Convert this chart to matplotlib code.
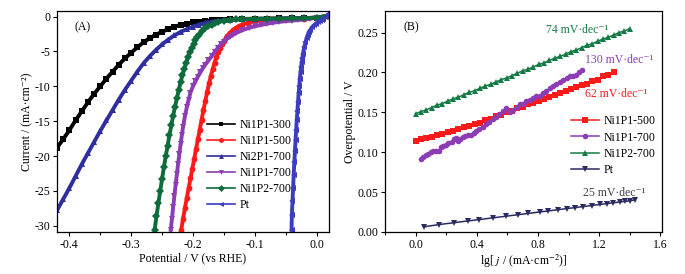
import numpy as np
import matplotlib
matplotlib.use("Agg")
import matplotlib.pyplot as plt
from matplotlib.ticker import MultipleLocator

plt.rcParams['font.family'] = ['Liberation Serif', 'DejaVu Serif']
plt.rcParams['mathtext.fontset'] = 'stix'
plt.rcParams['axes.unicode_minus'] = False

# ---- Panel A: polarization curves (potential V vs RHE, current mA/cm2) ----
v_300 = [-0.42, -0.41, -0.40, -0.39, -0.38, -0.37, -0.36, -0.35, -0.34, -0.33,
         -0.32, -0.31, -0.30, -0.29, -0.28, -0.27, -0.26, -0.25, -0.24, -0.23,
         -0.22, -0.21, -0.20, -0.19, -0.18, -0.17, -0.16, -0.15, -0.14, -0.12,
         -0.10, -0.08, -0.06, -0.04, -0.02, 0.00, 0.02]
i_300 = [-18.8, -17.6, -16.3, -14.9, -13.6, -12.3, -11.1, -10.0, -8.9, -7.9,
         -6.9, -6.0, -5.2, -4.4, -3.7, -3.1, -2.6, -2.2, -1.8, -1.45,
         -1.2, -1.0, -0.85, -0.72, -0.62, -0.54, -0.48, -0.43, -0.39, -0.34,
         -0.31, -0.29, -0.27, -0.25, -0.22, -0.15, 0.05]

v_2p1 = v_300
i_2p1 = [-27.8, -26.2, -24.6, -22.9, -21.2, -19.6, -18.0, -16.4, -14.9, -13.4,
         -11.9, -10.5, -9.2, -7.9, -6.7, -5.7, -4.8, -4.0, -3.3, -2.7,
         -2.2, -1.8, -1.45, -1.15, -0.92, -0.75, -0.62, -0.53, -0.47, -0.40,
         -0.36, -0.33, -0.31, -0.29, -0.25, -0.15, 0.1]

v_1p2 = [-0.262, -0.259, -0.256, -0.253, -0.250, -0.247, -0.244, -0.241, -0.238,
         -0.235, -0.232, -0.229, -0.226, -0.223, -0.220, -0.217, -0.214, -0.211,
         -0.208, -0.205, -0.202, -0.199, -0.196, -0.193, -0.190, -0.185, -0.180,
         -0.175, -0.170, -0.165, -0.160, -0.150, -0.140, -0.13, -0.12, -0.10,
         -0.08, -0.06, -0.04, -0.02, 0.00, 0.02]
i_1p2 = [-30.6, -28.6, -26.8, -25.0, -23.3, -21.6, -20.0, -18.5, -17.0,
         -15.6, -14.2, -12.9, -11.7, -10.5, -9.4, -8.4, -7.5, -6.6,
         -5.8, -5.1, -4.5, -3.9, -3.4, -3.0, -2.6, -2.1, -1.7,
         -1.4, -1.15, -0.95, -0.8, -0.6, -0.48, -0.4, -0.36, -0.32,
         -0.30, -0.28, -0.27, -0.24, -0.15, 0.15]

v_500 = [-0.219, -0.216, -0.213, -0.210, -0.207, -0.204, -0.201, -0.198, -0.195,
         -0.192, -0.189, -0.186, -0.183, -0.180, -0.177, -0.174, -0.171, -0.168,
         -0.165, -0.162, -0.159, -0.156, -0.153, -0.150, -0.145, -0.140, -0.135,
         -0.130, -0.125, -0.120, -0.110, -0.100, -0.09, -0.08, -0.06, -0.04,
         -0.02, 0.00, 0.02]
i_500 = [-30.6, -29.0, -27.5, -26.0, -24.6, -23.2, -21.8, -20.4, -19.0,
         -17.6, -16.2, -14.8, -13.4, -12.1, -10.8, -9.6, -8.5, -7.5,
         -6.6, -5.8, -5.1, -4.5, -4.0, -3.5, -2.8, -2.3, -1.9,
         -1.6, -1.35, -1.15, -0.85, -0.65, -0.52, -0.45, -0.38, -0.33,
         -0.28, -0.18, 0.15]

v_700 = [-0.236, -0.234, -0.232, -0.230, -0.228, -0.226, -0.224, -0.222, -0.220,
         -0.218, -0.216, -0.213, -0.210, -0.207, -0.204, -0.200, -0.196, -0.192,
         -0.188, -0.184, -0.180, -0.175, -0.170, -0.165, -0.160, -0.155, -0.150,
         -0.145, -0.140, -0.135, -0.130, -0.12, -0.11, -0.10, -0.09, -0.08,
         -0.07, -0.06, -0.05, -0.04, -0.03, -0.02, -0.01, 0.00, 0.02]
i_700 = [-30.6, -29.0, -27.3, -25.7, -24.1, -22.6, -21.1, -19.7, -18.3,
         -17.0, -15.8, -14.3, -13.0, -11.9, -10.9, -10.0, -9.3, -8.6,
         -8.0, -7.4, -6.9, -6.3, -5.7, -5.1, -4.5, -4.0, -3.6,
         -3.2, -2.9, -2.6, -2.35, -1.95, -1.65, -1.4, -1.2, -1.02,
         -0.88, -0.76, -0.66, -0.58, -0.5, -0.42, -0.3, -0.15, 0.15]

v_pt = [-0.0405, -0.040, -0.039, -0.038, -0.037, -0.036, -0.035, -0.034, -0.033,
        -0.032, -0.031, -0.030, -0.029, -0.028, -0.027, -0.026, -0.025, -0.024,
        -0.023, -0.022, -0.020, -0.018, -0.016, -0.014, -0.012, -0.010, -0.007,
        -0.004, -0.001, 0.002, 0.005, 0.008, 0.011, 0.014, 0.017, 0.020, 0.022]
i_pt = [-30.6, -28.5, -26.5, -24.6, -22.7, -20.9, -19.3, -17.7, -16.2,
        -14.8, -13.5, -12.2, -11.0, -9.9, -8.9, -8.0, -7.2, -6.5,
        -5.9, -5.3, -4.4, -3.7, -3.1, -2.6, -2.2, -1.9, -1.55,
        -1.25, -1.0, -0.8, -0.6, -0.45, -0.3, -0.1, 0.1, 0.3, 0.45]

# ---- Panel B: Tafel plots (lg j vs overpotential V) ----
lg_500 = [0.0, 0.035, 0.07, 0.105, 0.14, 0.175, 0.21, 0.245, 0.28, 0.315,
          0.35, 0.385, 0.42, 0.455, 0.49, 0.525, 0.56, 0.595, 0.63, 0.665,
          0.70, 0.735, 0.77, 0.805, 0.84, 0.875, 0.91, 0.945, 0.98, 1.015,
          1.05, 1.085, 1.12, 1.155, 1.19, 1.225, 1.26, 1.295]
eta_500 = [0.114, 0.116, 0.118, 0.119, 0.121, 0.123, 0.125, 0.127, 0.129, 0.131,
           0.133, 0.135, 0.137, 0.140, 0.142, 0.145, 0.147, 0.150, 0.152, 0.155,
           0.157, 0.160, 0.162, 0.164, 0.167, 0.169, 0.172, 0.174, 0.177, 0.179,
           0.182, 0.184, 0.186, 0.189, 0.191, 0.195, 0.197, 0.200]

lg_700 = [0.033, 0.05, 0.066, 0.083, 0.099, 0.115, 0.132, 0.15, 0.164, 0.18,
          0.197, 0.215, 0.235, 0.252, 0.262, 0.274, 0.29, 0.307, 0.325, 0.34,
          0.36, 0.38, 0.395, 0.415, 0.439, 0.46, 0.482, 0.505, 0.526, 0.548,
          0.57, 0.592, 0.614, 0.636, 0.66, 0.68, 0.70, 0.724, 0.745, 0.768,
          0.79, 0.811, 0.835, 0.855, 0.877, 0.899, 0.92, 0.943, 0.965, 0.987,
          1.01, 1.031, 1.05, 1.07, 1.09]
eta_700 = [0.092, 0.094, 0.096, 0.098, 0.100, 0.101, 0.102, 0.102, 0.106, 0.108,
           0.109, 0.111, 0.113, 0.116, 0.118, 0.114, 0.117, 0.119, 0.120, 0.121,
           0.122, 0.124, 0.126, 0.129, 0.132, 0.135, 0.138, 0.141, 0.144, 0.148,
           0.152, 0.155, 0.151, 0.153, 0.157, 0.160, 0.161, 0.164, 0.166, 0.168,
           0.170, 0.171, 0.174, 0.177, 0.180, 0.183, 0.186, 0.188, 0.190, 0.193,
           0.195, 0.196, 0.197, 0.200, 0.203]

lg_1p2 = [0.0, 0.035, 0.07, 0.105, 0.14, 0.175, 0.21, 0.245, 0.28, 0.315,
          0.35, 0.385, 0.42, 0.455, 0.49, 0.525, 0.56, 0.595, 0.63, 0.665,
          0.70, 0.735, 0.77, 0.805, 0.84, 0.875, 0.91, 0.945, 0.98, 1.015,
          1.05, 1.085, 1.12, 1.155, 1.19, 1.225, 1.26, 1.295, 1.33, 1.365, 1.40]
eta_1p2 = [0.148, 0.151, 0.153, 0.156, 0.159, 0.161, 0.164, 0.167, 0.169, 0.172,
           0.175, 0.177, 0.180, 0.183, 0.185, 0.188, 0.191, 0.193, 0.196, 0.199,
           0.202, 0.204, 0.207, 0.210, 0.212, 0.215, 0.218, 0.220, 0.223, 0.226,
           0.228, 0.231, 0.234, 0.236, 0.239, 0.242, 0.244, 0.247, 0.250, 0.252, 0.255]

lg_pt = [0.055, 0.153, 0.252, 0.34, 0.416, 0.504, 0.592, 0.669, 0.734, 0.811,
         0.866, 0.932, 0.987, 1.041, 1.096, 1.151, 1.206, 1.25, 1.293, 1.338,
         1.37, 1.403, 1.436]
eta_pt = [0.0065, 0.0093, 0.0117, 0.0138, 0.0156, 0.0177, 0.0198, 0.0217, 0.0232, 0.0251,
          0.0264, 0.0280, 0.0293, 0.0306, 0.0319, 0.0332, 0.0345, 0.0356, 0.0366, 0.0377,
          0.0384, 0.0392, 0.0403]

tafel_labels = ['74 mV·dec⁻¹', '130 mV·dec⁻¹', '62 mV·dec⁻¹', '25 mV·dec⁻¹']


def style_axes(ax):
    ax.tick_params(direction='out', length=3, width=0.8, labelsize=8.5, pad=2)
    ax.tick_params(which='minor', direction='out', length=2, width=0.8)
    for sp in ax.spines.values():
        sp.set_linewidth(0.9)


fig = plt.figure(figsize=(6.85, 2.74), dpi=100)

# Panel A
axa = fig.add_axes([0.0832, 0.1533, 0.397, 0.8066])
curves_a = [
    (v_300, i_300, 'Ni1P1-300', '#000000', 's'),
    (v_500, i_500, 'Ni1P1-500', '#ff1a1a', 'o'),
    (v_2p1, i_2p1, 'Ni2P1-700', '#2e2e9e', '^'),
    (v_700, i_700, 'Ni1P1-700', '#8c3cb4', 'v'),
    (v_1p2, i_1p2, 'Ni1P2-700', '#0e6b3a', 'D'),
    (v_pt, i_pt, 'Pt', '#3c3cc0', '<'),
]
for v, i, lab, col, mk in curves_a:
    axa.plot(v, i, color=col, lw=2.8, marker=mk, ms=4.2, mew=0, label=lab)
axa.set_xlim(-0.42, 0.02)
axa.set_ylim(-30.9, 0.8)
axa.xaxis.set_major_locator(MultipleLocator(0.1))
axa.xaxis.set_minor_locator(MultipleLocator(0.05))
axa.yaxis.set_major_locator(MultipleLocator(5))
axa.set_xticks([-0.4, -0.3, -0.2, -0.1, 0.0])
axa.set_xticklabels(['-0.4', '-0.3', '-0.2', '-0.1', '0.0'])
axa.set_yticks([0, -5, -10, -15, -20, -25, -30])
axa.set_yticklabels(['0', '-5', '-10', '-15', '-20', '-25', '-30'])
axa.set_xlabel('Potential / V (vs RHE)', fontsize=8.5, labelpad=1)
axa.set_ylabel('Current / (mA·cm⁻²)', fontsize=8.5, labelpad=1)
axa.text(0.066, 0.928, '(A)', transform=axa.transAxes, fontsize=8.5, va='center')
style_axes(axa)
leg = axa.legend(loc='upper left', bbox_to_anchor=(0.52, 0.55), frameon=False,
                 fontsize=8.5, handlelength=2.4, handletextpad=0.4,
                 labelspacing=0.35, borderpad=0.2)
for h in leg.get_lines():
    h.set_linewidth(1.2)
    h.set_markersize(3.5)

# Panel B
axb = fig.add_axes([0.562, 0.1533, 0.4044, 0.8066])
curves_b = [
    (lg_500, eta_500, 'Ni1P1-500', '#ff1a1a', 's'),
    (lg_700, eta_700, 'Ni1P1-700', '#8c3cb4', 'o'),
    (lg_1p2, eta_1p2, 'Ni1P2-700', '#137a44', '^'),
    (lg_pt, eta_pt, 'Pt', '#2b2b63', 'v'),
]
for x, y, lab, col, mk in curves_b:
    axb.plot(x, y, color=col, lw=1.1, marker=mk, ms=4.0, mew=0, label=lab)
axb.set_xlim(-0.2, 1.61)
axb.set_ylim(0, 0.277)
axb.xaxis.set_major_locator(MultipleLocator(0.4))
axb.xaxis.set_minor_locator(MultipleLocator(0.2))
axb.yaxis.set_major_locator(MultipleLocator(0.05))
axb.set_xticks([0.0, 0.4, 0.8, 1.2, 1.6])
axb.set_xticklabels(['0.0', '0.4', '0.8', '1.2', '1.6'])
axb.set_yticks([0.0, 0.05, 0.10, 0.15, 0.20, 0.25])
axb.set_yticklabels(['0.00', '0.05', '0.10', '0.15', '0.20', '0.25'])
axb.set_xlabel(r'lg[ $j$ / (mA·cm$^{-2}$)]', fontsize=8.5, labelpad=1)
axb.set_ylabel('Overpotential / V', fontsize=8.5, labelpad=1)
axb.text(0.066, 0.928, '(B)', transform=axb.transAxes, fontsize=8.5, va='center')
axb.text(0.855, 0.253, tafel_labels[0], color='#137a44', fontsize=8.5, va='center')
axb.text(1.107, 0.215, tafel_labels[1], color='#8c3cb4', fontsize=8.5, va='center')
axb.text(1.107, 0.173, tafel_labels[2], color='#ff1a1a', fontsize=8.5, va='center')
axb.text(1.095, 0.049, tafel_labels[3], color='#404048', fontsize=8.5, va='center')
style_axes(axb)
axb.legend(loc='upper left', bbox_to_anchor=(0.64, 0.565), frameon=False,
           fontsize=8.5, handlelength=2.4, handletextpad=0.4,
           labelspacing=0.35, borderpad=0.2)

fig.savefig('out.png', dpi=100)
